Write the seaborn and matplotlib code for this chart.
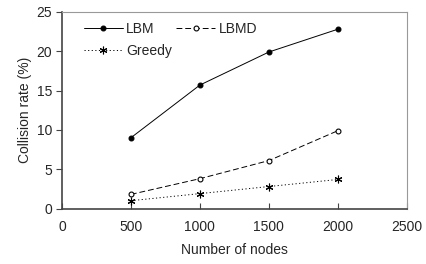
import matplotlib
matplotlib.use("Agg")
import matplotlib.pyplot as plt
import seaborn as sns
import pandas as pd

nodes = [500, 1000, 1500, 2000]
lbm = [9.0, 15.7, 19.9, 22.8]
lbmd = [1.8, 3.8, 6.1, 9.9]
greedy = [1.0, 1.9, 2.8, 3.7]
series_names = ["LBM", "LBMD", "Greedy"]
x_ticks = [0, 500, 1000, 1500, 2000, 2500]
y_ticks = [0, 5, 10, 15, 20, 25]

sns.set_style("ticks")
plt.rcParams['font.family'] = ['Liberation Sans', 'DejaVu Sans']
FS = 10

df = pd.DataFrame({"nodes": nodes * 3,
                   "rate": lbm + lbmd + greedy,
                   "series": sum([[s] * len(nodes) for s in series_names], [])})

fig, ax = plt.subplots(figsize=(4.27, 2.64), dpi=100)
styles = {
    "LBM": dict(ls="-", marker="o", mfc="black", ms=3.5),
    "LBMD": dict(ls=(0, (6, 3)), marker="o", mfc="white", ms=3.5),
    "Greedy": dict(ls=(0, (1.2, 2.5)), marker=(6, 2, 0), mfc="black", ms=5.5),
}
for s in series_names:
    sub = df[df.series == s]
    st = styles[s]
    sns.lineplot(data=sub, x="nodes", y="rate", ax=ax, color="black", lw=0.7,
                 linestyle=st["ls"], marker=st["marker"], markersize=st["ms"],
                 markerfacecolor=st["mfc"], markeredgecolor="black",
                 markeredgewidth=0.8, label=s)

ax.set_xlim(0, 2500)
ax.set_ylim(0, 25)
ax.set_xticks(x_ticks)
ax.set_yticks(y_ticks)
ax.set_xlabel("Number of nodes", fontsize=FS, labelpad=7)
ax.set_ylabel("Collision rate (%)", fontsize=FS, labelpad=3)
ax.tick_params(axis="x", direction="in", length=4, width=0.8, labelsize=FS, pad=8,
               color="#444444")
ax.tick_params(axis="y", direction="out", length=4, width=0.8, labelsize=FS, pad=3,
               color="#444444")
for sp in ["left", "bottom"]:
    ax.spines[sp].set_color("#444444")
    ax.spines[sp].set_linewidth(1.2)
for sp in ["top", "right"]:
    ax.spines[sp].set_color("#999999")
    ax.spines[sp].set_linewidth(0.8)

h, l = ax.get_legend_handles_labels()
order = [0, 2, 1]
ax.legend([h[i] for i in order], [l[i] for i in order], loc="upper left", ncol=2,
          frameon=False, fontsize=FS, handlelength=2.8, columnspacing=0.3,
          borderaxespad=0.3, labelspacing=0.6, handletextpad=0.25,
          bbox_to_anchor=(0.035, 1.0))
fig.subplots_adjust(left=0.145, right=0.953, top=0.955, bottom=0.21)
fig.savefig("out.png", dpi=100)
